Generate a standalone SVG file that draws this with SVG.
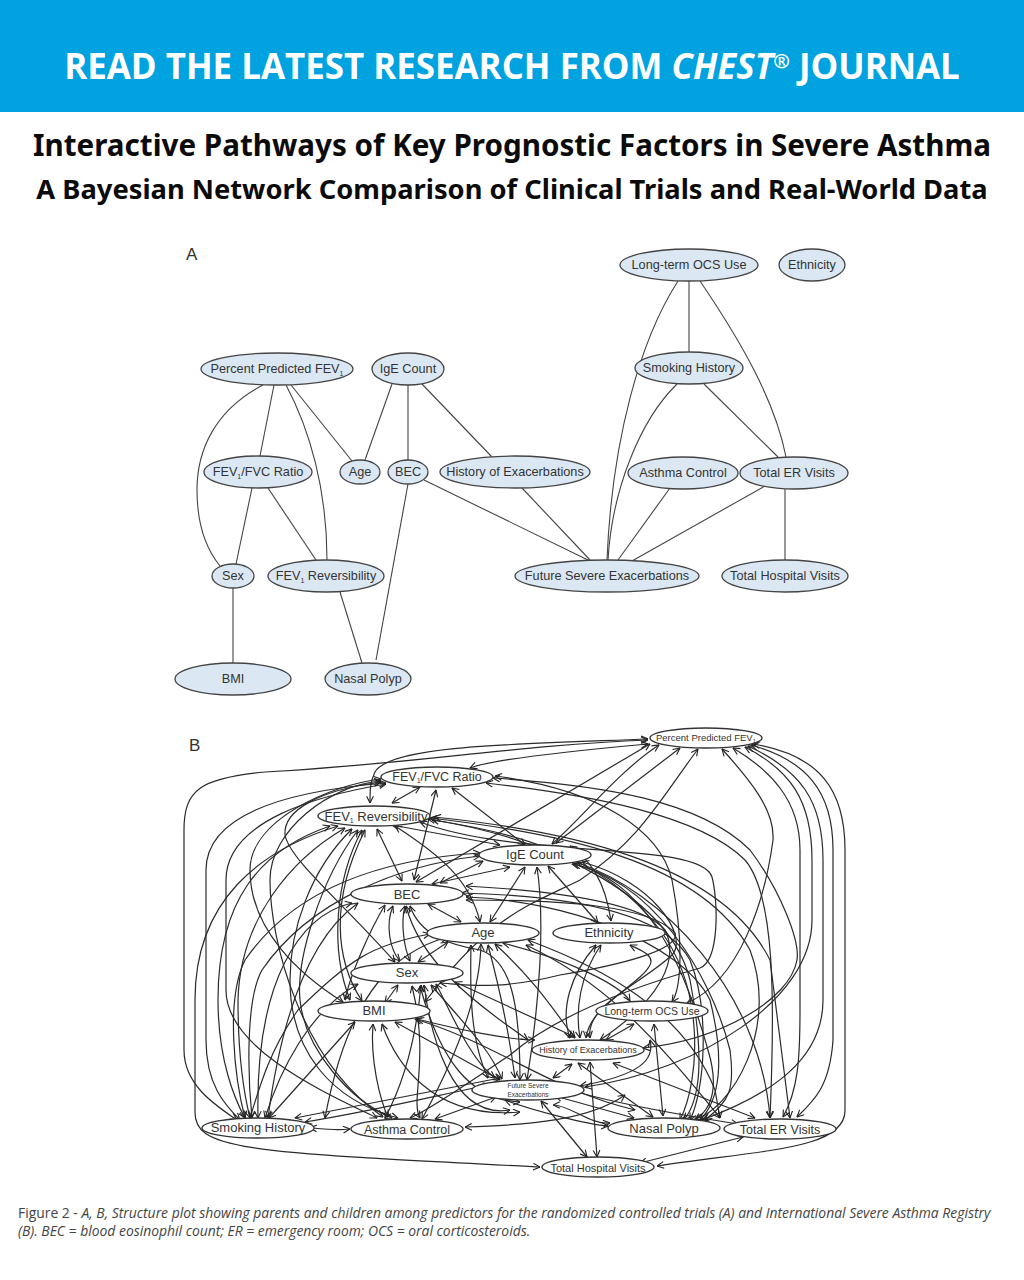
<svg xmlns="http://www.w3.org/2000/svg" width="1024" height="1280" viewBox="0 0 1024 1280">
<style>
.ban{font:700 34.9px "Open Sans",sans-serif;fill:#fff}
.t1{font:700 29.6px "Noto Sans","Open Sans",sans-serif;fill:#0b0b0b}
.t2{font:700 27.3px "Noto Sans","Open Sans",sans-serif;fill:#0b0b0b}
.cap{font:13.9px "Open Sans",sans-serif;fill:#444}
.capi{font-style:italic}
.pl{font:17px "Liberation Sans",sans-serif;fill:#333}
.a ellipse{fill:#dbe8f3;stroke:#444;stroke-width:1.3}
.a text{font:12.7px "Liberation Sans",sans-serif;fill:#333;text-anchor:middle}
.b ellipse{fill:#fff;stroke:#333;stroke-width:1.4}
.b text{font:13px "Liberation Sans",sans-serif;fill:#333;text-anchor:middle}
#ca path{fill:none;stroke:#444;stroke-width:1.1}
#cb path{fill:none;stroke:#2a2a2a;stroke-width:1.2;marker-start:url(#v);marker-end:url(#v)}
</style>
<defs>
<marker id="v" viewBox="0 0 10 10" refX="9.5" refY="5" markerWidth="8" markerHeight="8" markerUnits="userSpaceOnUse" orient="auto-start-reverse"><path d="M1 .8L9.5 5L1 9.2" fill="none" stroke="#222" stroke-width="1.4"/></marker>
</defs>
<rect width="1024" height="1280" fill="#fff"/>
<rect id="banner" width="1024" height="112" fill="#00a3e0"/>
<text class="ban" x="512" y="79" text-anchor="middle">READ THE LATEST RESEARCH FROM <tspan font-style="italic">CHEST</tspan><tspan font-size="20" dy="-11">®</tspan><tspan dy="11"> JOURNAL</tspan></text>
<text class="t1" x="512" y="156" text-anchor="middle">Interactive Pathways of Key Prognostic Factors in Severe Asthma</text>
<text class="t2" x="512" y="199" text-anchor="middle">A Bayesian Network Comparison of Clinical Trials and Real-World Data</text>
<text class="pl" x="186" y="260">A</text>
<text class="pl" x="189" y="751">B</text>

<g id="ca">
<path d="M263 385C215 410 197 450 197 490C197 525 207 550 220 566"/>
<path d="M274 385L260 456"/>
<path d="M286 385C310 430 327 490 327 560"/>
<path d="M291 385L352 461"/>
<path d="M392 384L365 460"/>
<path d="M408 385V460"/>
<path d="M422 384L492 457"/>
<path d="M408 484L376 660"/>
<path d="M252 488L236 564"/>
<path d="M268 488L316 560"/>
<path d="M233 588V663"/>
<path d="M340 592L362 663"/>
<path d="M424 480L590 561"/>
<path d="M522 488L590 560"/>
<path d="M689 281V352"/>
<path d="M678 281C640 340 612 440 607 560"/>
<path d="M700 281C740 340 775 400 786 457"/>
<path d="M677 384C640 420 612 490 608 560"/>
<path d="M704 384L778 457"/>
<path d="M670 488L618 560"/>
<path d="M765 486L632 561"/>
<path d="M785 489V560"/>
</g>
<g class="a">
<g id="a-ocs"><ellipse cx="689" cy="265" rx="69" ry="16"/><text x="689" y="269">Long-term OCS Use</text></g>
<g id="a-eth"><ellipse cx="812" cy="265" rx="33" ry="16"/><text x="812" y="269">Ethnicity</text></g>
<g id="a-ppf"><ellipse cx="277" cy="369" rx="76" ry="16"/><text x="277" y="373">Percent Predicted FEV<tspan font-size="7" dy="3">1</tspan></text></g>
<g id="a-ige"><ellipse cx="408" cy="369" rx="36" ry="16"/><text x="408" y="373">IgE Count</text></g>
<g id="a-smk"><ellipse cx="689" cy="368" rx="54" ry="16"/><text x="689" y="372">Smoking History</text></g>
<g id="a-fvc"><ellipse cx="258" cy="472" rx="54" ry="16"/><text x="258" y="476">FEV<tspan font-size="7" dy="3">1</tspan><tspan dy="-3">/FVC Ratio</tspan></text></g>
<g id="a-age"><ellipse cx="360" cy="472" rx="20" ry="12"/><text x="360" y="476">Age</text></g>
<g id="a-bec"><ellipse cx="408" cy="472" rx="20" ry="12"/><text x="408" y="476">BEC</text></g>
<g id="a-his"><ellipse cx="515" cy="472" rx="75" ry="16"/><text x="515" y="476">History of Exacerbations</text></g>
<g id="a-ast"><ellipse cx="683" cy="473" rx="55" ry="16"/><text x="683" y="477">Asthma Control</text></g>
<g id="a-er"><ellipse cx="794" cy="473" rx="54" ry="16"/><text x="794" y="477">Total ER Visits</text></g>
<g id="a-sex"><ellipse cx="233" cy="576" rx="21" ry="12"/><text x="233" y="580">Sex</text></g>
<g id="a-rev"><ellipse cx="326" cy="576" rx="58" ry="16"/><text x="326" y="580">FEV<tspan font-size="7" dy="3">1</tspan><tspan dy="-3"> Reversibility</tspan></text></g>
<g id="a-fut"><ellipse cx="607" cy="576" rx="92" ry="16"/><text x="607" y="580">Future Severe Exacerbations</text></g>
<g id="a-hos"><ellipse cx="785" cy="576" rx="63" ry="16"/><text x="785" y="580">Total Hospital Visits</text></g>
<g id="a-bmi"><ellipse cx="233" cy="679" rx="58" ry="16"/><text x="233" y="683">BMI</text></g>
<g id="a-nas"><ellipse cx="368" cy="679" rx="43" ry="16"/><text x="368" y="683">Nasal Polyp</text></g>
</g>

<g id="cb">
<path d="M648 739C520 744 390 745 375 772C370 782 370 790 370 803"/>
<path d="M648 740C520 745 400 765 265 772C200 778 184 790 184 830V1050C184 1085 215 1105 237 1120"/>
<path d="M648 744C560 752 490 760 470 768"/>
<path d="M381 779C330 785 250 820 250 870C250 930 300 975 343 1002"/>
<path d="M381 781C330 785 270 830 270 880C270 940 300 1060 383 1117"/>
<path d="M386 783C300 790 206 810 206 870V1040C206 1085 225 1105 240 1120"/>
<path d="M386 784C320 795 226 820 226 880V990C226 1050 330 1095 377 1118"/>
<path d="M381 782C320 790 283 810 285 835C290 860 340 900 395 962"/>
<path d="M338 826C260 850 195 900 195 1000V1110C193 1150 240 1152 540 1167"/>
<path d="M330 826C260 850 218 900 218 1000C218 1060 235 1100 245 1118"/>
<path d="M345 828C290 860 240 920 238 1000C238 1050 243 1090 250 1118"/>
<path d="M352 829C310 870 290 930 290 980C290 1050 330 1100 398 1118"/>
<path d="M358 830C320 880 296 960 300 1000C305 1050 350 1100 392 1118"/>
<path d="M362 830C335 880 330 950 350 1000"/>
<path d="M365 830C330 900 335 960 362 1001"/>
<path d="M377 829L402 881"/>
<path d="M395 826C440 855 470 880 480 922"/>
<path d="M392 825L500 845"/>
<path d="M420 787L392 803"/>
<path d="M436 790L414 880"/>
<path d="M452 788L525 845"/>
<path d="M495 776C600 790 660 830 672 880C685 950 680 990 672 1002"/>
<path d="M493 778C600 785 700 800 750 850C780 890 800 940 797 960C790 1000 720 1040 643 1048"/>
<path d="M486 783C590 795 700 815 745 860C775 895 775 1000 770 1118"/>
<path d="M434 817C560 830 720 860 770 960L790 1118"/>
<path d="M430 818C560 833 700 860 750 950C780 1030 730 1110 695 1119"/>
<path d="M428 819C560 840 670 900 690 980C705 1060 700 1100 684 1120"/>
<path d="M432 820C500 830 600 850 660 930C705 990 700 1080 680 1120"/>
<path d="M420 822C520 860 700 840 712 877C718 900 720 960 700 968C640 985 560 1012 510 1055C480 1075 430 1110 410 1118"/>
<path d="M650 744L416 882"/>
<path d="M659 745C620 770 580 820 552 844"/>
<path d="M698 749C660 800 640 840 580 880C530 905 490 915 425 1002"/>
<path d="M680 748L556 843"/>
<path d="M722 749C750 780 775 810 773 840C765 900 740 980 687 1003"/>
<path d="M733 748C770 770 800 800 800 850V1010C800 1060 798 1090 783 1117"/>
<path d="M745 747C790 770 812 800 812 860V920C812 1000 700 1070 585 1087"/>
<path d="M748 746C800 770 823 800 823 860V1000C823 1060 770 1095 702 1120"/>
<path d="M751 745C805 760 833 790 833 850V1040C830 1085 815 1100 797 1117"/>
<path d="M753 744C820 755 845 790 845 850V1110C846 1150 760 1150 657 1166"/>
<path d="M480 853C400 858 300 880 245 960C225 1000 235 1080 245 1118"/>
<path d="M480 856C400 865 310 900 262 970C245 1000 248 1080 252 1118"/>
<path d="M483 861L440 883"/>
<path d="M510 867L432 884"/>
<path d="M525 867L490 922"/>
<path d="M537 867C545 920 540 1000 527 1080"/>
<path d="M548 866L598 923"/>
<path d="M570 846C590 860 605 880 611 921"/>
<path d="M574 864C640 880 680 950 708 1050C720 1090 710 1110 695 1120"/>
<path d="M572 864C650 880 710 970 730 1050C735 1090 730 1100 705 1120"/>
<path d="M578 863C660 890 760 990 770 1118"/>
<path d="M352 903C300 915 255 980 258 1118"/>
<path d="M385 905C370 930 350 975 345 1000"/>
<path d="M358 903C320 930 285 990 268 1118"/>
<path d="M393 906C385 925 390 950 400 961"/>
<path d="M405 906C400 925 405 950 410 961"/>
<path d="M410 906C420 935 450 945 480 950C510 960 520 1000 520 1080"/>
<path d="M406 906C420 960 470 1000 528 1040"/>
<path d="M428 904L461 922"/>
<path d="M466 886C540 890 640 900 665 930C680 960 660 1000 600 1040"/>
<path d="M466 897C560 900 680 940 710 1000C725 1060 720 1100 700 1120"/>
<path d="M462 893C540 895 660 905 690 960C710 1010 705 1090 690 1120"/>
<path d="M466 900C560 900 650 905 675 933C680 950 620 965 560 975C500 990 470 985 440 983"/>
<path d="M430 934C370 945 350 960 298 1010C270 1050 260 1085 250 1118"/>
<path d="M448 942L418 962"/>
<path d="M448 937C400 950 350 985 325 1118"/>
<path d="M481 944C480 990 460 1050 422 1119"/>
<path d="M471 945C470 990 470 1040 488 1078"/>
<path d="M488 945C500 990 510 1040 515 1078"/>
<path d="M495 944C540 985 560 1020 575 1038"/>
<path d="M503 943C570 960 620 985 630 1001"/>
<path d="M528 940C580 960 680 1000 715 1090L720 1118"/>
<path d="M526 945C600 980 650 1030 720 1118"/>
<path d="M596 945C570 975 560 1010 570 1038"/>
<path d="M601 945C580 975 575 1010 580 1038"/>
<path d="M586 1038C590 1005 640 985 650 965C655 955 640 950 630 945"/>
<path d="M590 1038C585 1005 640 985 672 955C690 935 650 880 582 862"/>
<path d="M455 982L575 1037"/>
<path d="M436 984C450 1010 470 1060 495 1078"/>
<path d="M431 985C470 1030 490 1050 502 1079"/>
<path d="M424 985C430 1030 450 1120 510 1110"/>
<path d="M420 986C440 1060 470 1100 520 1102"/>
<path d="M421 985C415 1050 400 1090 385 1118"/>
<path d="M412 986C430 1060 410 1100 420 1118"/>
<path d="M358 984C310 1010 280 1070 265 1118"/>
<path d="M385 1003L398 985"/>
<path d="M355 1022L269 1118"/>
<path d="M373 1024C370 1060 380 1100 388 1117"/>
<path d="M382 1024C395 1060 430 1120 520 1112"/>
<path d="M395 1022L500 1080"/>
<path d="M417 1019C460 1030 510 1040 535 1040"/>
<path d="M415 1019C500 1045 550 1090 635 1110"/>
<path d="M305 1122C380 1110 460 1090 490 1085"/>
<path d="M295 1118L500 1078"/>
<path d="M435 1119L496 1097"/>
<path d="M465 1127C530 1125 590 1120 625 1095"/>
<path d="M553 1105C570 1105 590 1125 610 1123"/>
<path d="M505 1100C530 1110 590 1125 608 1126"/>
<path d="M555 1096L634 1118"/>
<path d="M570 1090C620 1105 700 1118 738 1124"/>
<path d="M541 1101L587 1157"/>
<path d="M590 1062L597 1157"/>
<path d="M553 1078L572 1064"/>
<path d="M578 1063L653 1117"/>
<path d="M613 1063L755 1118"/>
<path d="M606 1040L634 1024"/>
<path d="M654 1024L663 1116"/>
<path d="M650 1040C655 1060 640 1075 580 1086"/>
<path d="M640 1163L743 1137"/>
<path d="M310 1128C340 1130 340 1130 350 1129"/>
</g>
<g class="b">
<g id="b-ppf"><ellipse cx="706" cy="738" rx="56" ry="10"/><text x="706" y="741" style="font-size:9.5px">Percent Predicted FEV<tspan font-size="6" dy="2">1</tspan></text></g>
<g id="b-fvc"><ellipse cx="437" cy="777" rx="56" ry="10"/><text x="437" y="781" style="font-size:12.5px">FEV<tspan font-size="7" dy="2">1</tspan><tspan dy="-2">/FVC Ratio</tspan></text></g>
<g id="b-rev"><ellipse cx="374" cy="816" rx="56" ry="10"/><text x="376" y="821">FEV<tspan font-size="7" dy="2">1</tspan><tspan dy="-2"> Reversibility</tspan></text></g>
<g id="b-ige"><ellipse cx="535" cy="855" rx="56" ry="10"/><text x="535" y="859">IgE Count</text></g>
<g id="b-bec"><ellipse cx="407" cy="894" rx="56" ry="10"/><text x="407" y="899">BEC</text></g>
<g id="b-age"><ellipse cx="483" cy="933" rx="56" ry="10"/><text x="483" y="937">Age</text></g>
<g id="b-eth"><ellipse cx="609" cy="933" rx="56" ry="10"/><text x="609" y="937">Ethnicity</text></g>
<g id="b-sex"><ellipse cx="407" cy="973" rx="56" ry="10"/><text x="407" y="977">Sex</text></g>
<g id="b-bmi"><ellipse cx="374" cy="1011" rx="56" ry="10"/><text x="374" y="1015">BMI</text></g>
<g id="b-ocs"><ellipse cx="652" cy="1011" rx="56" ry="10"/><text x="652" y="1015" style="font-size:10.5px">Long-term OCS Use</text></g>
<g id="b-his"><ellipse cx="588" cy="1050" rx="56" ry="10"/><text x="588" y="1053" style="font-size:9px">History of Exacerbations</text></g>
<g id="b-fut"><ellipse cx="528" cy="1090" rx="56" ry="10"/><text x="528" y="1088" style="font-size:6.5px">Future Severe</text><text x="528" y="1097" style="font-size:6.5px">Exacerbations</text></g>
<g id="b-smk"><ellipse cx="258" cy="1128" rx="56" ry="10"/><text x="258" y="1132">Smoking History</text></g>
<g id="b-ast"><ellipse cx="407" cy="1129" rx="56" ry="10"/><text x="407" y="1134" style="font-size:12.5px">Asthma Control</text></g>
<g id="b-nas"><ellipse cx="664" cy="1128" rx="56" ry="10"/><text x="664" y="1133">Nasal Polyp</text></g>
<g id="b-er"><ellipse cx="780" cy="1129" rx="56" ry="10"/><text x="780" y="1134" style="font-size:12.5px">Total ER Visits</text></g>
<g id="b-hos"><ellipse cx="598" cy="1167" rx="56" ry="10"/><text x="598" y="1172" style="font-size:11px">Total Hospital Visits</text></g>
</g>
<text class="cap" x="18" y="1218">Figure 2 - <tspan class="capi">A, B, Structure plot showing parents and children among predictors for the randomized controlled trials (A) and International Severe Asthma Registry</tspan></text>
<text class="cap capi" x="18" y="1236">(B). BEC = blood eosinophil count; ER = emergency room; OCS = oral corticosteroids.</text>
</svg>
